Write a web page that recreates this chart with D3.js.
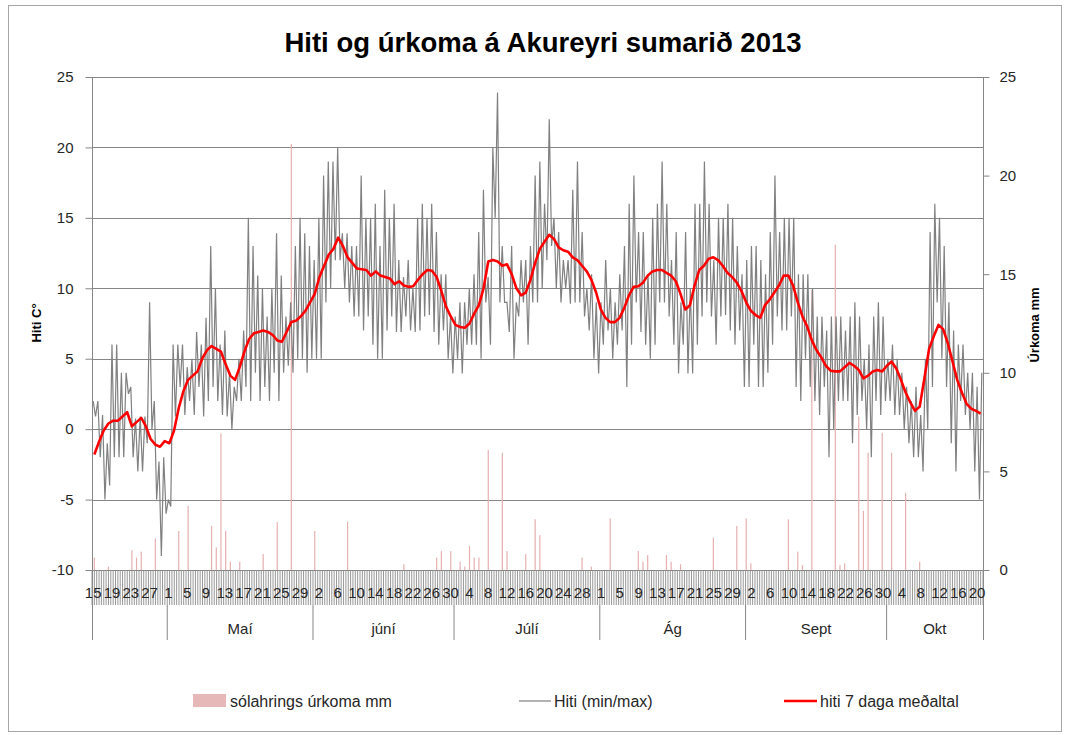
<!DOCTYPE html>
<html><head><meta charset="utf-8">
<script src="https://cdn.jsdelivr.net/npm/d3@7"></script>
<style>body{margin:0;background:#fff}svg{display:block}text{font-family:"Liberation Sans",Arial,sans-serif}</style>
</head><body>
<svg id="c" width="1068" height="735"></svg>
<script>
const title = "Hiti og úrkoma á Akureyri sumarið 2013";
// daily max temperature, 15 Apr .. 21 Oct 2013
const tMax = [2,2,1,-1,6,6,4,4,3,0.75,0.9,0.9,9,2,-2.3,-2,
 -5,6,6,6,4.4,5,6.9,6,7.9,13,10,6,7,4,3,5,7,15,13,10.9,10,8,10,13.9,10.9,8,9,13,15,13.9,13,
 12,15,18,19,19,20,13.9,13.9,13,13,18,15,15,16,13,17,15,16,12,10.8,12,10,15,16,15,16,14,11,11,8,
 8,9,9,10,11,14,17,10.8,20,23.9,13,9,13,9,12,12,13,18,19,16,22,15,14,12,12,17,19,14,10,11,9,
 9,12,10,9,11,13,16,18,14,14,11,15,16,19,16,12,14,9,14,10,16,16,19,16,12,15,15,16,15,13,11,
 12,13,13,12,11,14,18,14,15,15,15,11,11,11,10,8,8,7,8,8,8,7,8,9,8,5,6,8,9,8,
 5,6,5,4,3,2,3,1,5,14,16,15,13,9,7,6,6,4,4,3,4];
// daily min temperature
const tMin = [0.9,-2,-5,-4,-2,-2,-2,2.5,-2,-3,-3,-1,0,-5,-9,-6,
 -5.5,0.9,3,1,2,1,3,0.9,2,3,2,1,0.9,0,2,2,3,2,4,2,3,2,4,2,4,4.5,4,5,5,4,5,
 5,5,9,10,12,12,10,9,8,8,7,8,6,5,5,7,8,6.9,6.9,8,7,6.9,7,8,8.1,6.9,6,7,5,3.95,
 5,3.95,6,6,6,5,9,6,15,9,9,6.9,5,8,9,6,9,9,10,12,13,10,9,10,8.9,9,9,8,7,5,3.95,
 6,7,5,6,7,3,6,9,6.9,6,5,6,9,9,8,6,3.95,6,3.95,3.95,6,8,9,8,6,8,8.1,7,6,7,3,
 3,6,3,3,4,6,8,7,7,8,3,2,5,3,2,1,3,-2,0,2,2,2,-1,1,2,0,-2,2,1,2,
 2,1,1,0,-1,-2,-2,-3,0,3,9,5,3,-1,-3,2,1,0,-3,-5];
// 7-day running mean
const avg7 = [-1.8,-0.9,-0.1,0.4,0.6,0.6,0.9,1.2,0.2,0.5,
 0.8,0.2,-0.7,-1.1,-1.25,-0.85,-1.0,-0.1,1.5,2.7,
 3.5,3.8,4.1,5.0,5.6,5.9,5.7,5.5,4.6,3.8,
 3.5,4.4,5.5,6.4,6.8,6.9,7.0,6.9,6.7,6.3,
 6.2,6.9,7.6,7.7,8.0,8.4,9.0,9.6,10.8,11.6,
 12.4,12.8,13.6,13.0,12.2,11.8,11.4,11.35,11.3,10.9,
 11.2,10.9,10.8,10.7,10.3,10.5,10.2,10.1,10.15,10.6,
 11.0,11.3,11.25,10.8,9.8,8.7,8.0,7.4,7.25,7.2,
 7.5,8.2,8.8,10.0,11.9,12.0,11.9,11.6,11.7,11.0,
 10.0,9.5,9.7,10.6,11.8,12.8,13.3,13.8,13.5,12.9,
 12.7,12.6,12.2,12.0,11.6,11.2,10.6,9.7,8.5,7.9,
 7.6,7.6,7.9,8.6,9.5,10.1,10.15,10.4,10.9,11.2,
 11.3,11.3,11.1,10.9,10.5,9.6,8.5,8.8,10.2,11.3,
 11.6,12.1,12.2,12.0,11.6,11.1,10.8,10.4,9.8,9.0,
 8.4,8.1,7.9,8.8,9.2,9.7,10.2,10.9,10.9,10.2,
 9.0,8.0,7.3,6.3,5.6,5.1,4.5,4.15,4.1,4.1,
 4.4,4.7,4.5,4.2,3.6,3.8,4.1,4.2,4.1,4.5,
 4.8,4.3,3.5,2.6,1.9,1.3,1.6,3.6,5.7,6.6,
 7.4,7.1,6.1,4.8,3.5,2.6,1.8,1.45,1.3,1.1];
// daily precipitation mm
const rain = [0.63,0,0,0.17,0,0,0,0,1.0,0.63, 0.93,0,0,1.6,0,0,0,0,1.98,0,
 3.25,0,0,0,0,2.23,1.15,6.93,1.98,0.42, 0,0.42,0,0,0,0,0.81,0,0,2.42,
 0,0,21.6,0,0,0,0,1.98,0,0, 0,0,0,0,2.45,0,0,0,0,0,
 0,0,0,0,0,0,0.29,0,0,0, 0,0,0,0.63,0.96,0,0.96,0,0.42,0.17,
 1.22,0.63,0.63,0,6.09,0,0,5.95,0.96,0, 0,0,0.81,0,2.57,1.77,0,0,0,0,
 0,0,0,0,0.63,0,0.17,0,0,0, 2.62,0,0,0,0,0,0.96,0.42,0.76,0,
 0,0,0.76,0.42,0,0.29,0,0,0,0, 0,0,1.64,0,0,0,0,2.23,0,2.62,
 0.34,0,0,0,0,0,0,0,2.57,0, 0.93,0.25,0,14.2,0,0,0,0,16.5,0.25,
 0.34,0,0,7.78,3.0,5.95,0,0,6.96,0, 5.95,0,0,3.92,0,0,0.42,0,0,0,
 0,0,0,0,0,0,0,0,0,0];
const dayLabels = ["15","19","23","27","1","5","9","13","17","21","25","29",
 "2","6","10","14","18","22","26","30","4","8","12","16","20","24","28",
 "1","5","9","13","17","21","25","29","2","6","10","14","18","22","26","30",
 "4","8","12","16","20"];
const months = ["", "Maí", "júní", "Júlí", "Ág", "Sept", "Okt"];
const monthDays = [16, 31, 30, 31, 31, 30, 21];
const leftTicks = [-10, -5, 0, 5, 10, 15, 20, 25];
const rightTicks = [0, 5, 10, 15, 20, 25];
const legendItems = ["sólahrings úrkoma mm", "Hiti (min/max)", "hiti 7 daga meðaltal"];

const hiti = [];
tMax.forEach((v, d) => { hiti.push(v); if (d < tMin.length) hiti.push(tMin[d]); });
const nCat = hiti.length;
const L = 92, R = 983, T = 77, B = 570;

const svg = d3.select("#c");
const xCat = d3.scaleBand().domain(d3.range(nCat)).range([L, R]);
const xDay = d3.scaleBand().domain(d3.range(tMax.length)).range([L, R]);
const yL = d3.scaleLinear().domain([-10, 25]).range([B, T]);
const yR = d3.scaleLinear().domain([0, 25]).range([B, T]);
const gridC = "#868686", txtC = "#262626";
const fmt = d => String(d);

// outer border
svg.append("rect").attr("x", 8.5).attr("y", 5.5).attr("width", 1053).attr("height", 726)
  .attr("fill", "none").attr("stroke", "#a6a6a6");

// title
svg.append("text").attr("x", 543).attr("y", 52).attr("text-anchor", "middle")
  .attr("font-size", 27.5).attr("font-weight", "bold").attr("fill", "#000").text(title);

// grid
svg.append("g").selectAll("line").data(leftTicks).join("line")
  .attr("x1", L).attr("x2", R).attr("y1", d => Math.round(yL(d)) + 0.5).attr("y2", d => Math.round(yL(d)) + 0.5)
  .attr("stroke", gridC);

// left axis
const gl = svg.append("g").attr("transform", `translate(${L + 0.5},0)`)
  .call(d3.axisLeft(yL).tickValues(leftTicks).tickFormat(fmt).tickSize(7).tickPadding(12));
gl.select(".domain").remove();
gl.selectAll("line").attr("stroke", gridC);
gl.selectAll("text").attr("font-size", 15).attr("fill", txtC).attr("font-family", "Liberation Sans, Arial");
svg.append("line").attr("x1", L + 0.5).attr("x2", L + 0.5).attr("y1", T).attr("y2", 640).attr("stroke", gridC);

// right axis
const gr = svg.append("g").attr("transform", `translate(${R + 0.5},0)`)
  .call(d3.axisRight(yR).tickValues(rightTicks).tickFormat(fmt).tickSize(6).tickPadding(10));
gr.select(".domain").remove();
gr.selectAll("line").attr("stroke", gridC);
gr.selectAll("text").attr("font-size", 15).attr("fill", txtC).attr("font-family", "Liberation Sans, Arial");
svg.append("line").attr("x1", R + 0.5).attr("x2", R + 0.5).attr("y1", T).attr("y2", 640).attr("stroke", gridC);

// category ticks
const bw = xCat.bandwidth();
svg.append("g").selectAll("line").data(d3.range(nCat + 1)).join("line")
  .attr("x1", i => L + i * bw).attr("x2", i => L + i * bw)
  .attr("y1", B).attr("y2", 605).attr("stroke", "#8c8c8c").attr("stroke-width", 0.9);

// day labels
svg.append("g").selectAll("text").data(dayLabels).join("text")
  .attr("x", (t, k) => xCat(8 * k) + bw / 2).attr("y", 598).attr("text-anchor", "middle")
  .attr("font-size", 15).attr("fill", txtC).text(t => t);

// month separators + labels
let cum = 0;
const bounds = [0];
monthDays.forEach(n => { cum += n; bounds.push(Math.min(cum * 2, nCat)); });
svg.append("g").selectAll("line").data(bounds.slice(1, -1)).join("line")
  .attr("x1", b => L + b * bw).attr("x2", b => L + b * bw).attr("y1", 605).attr("y2", 640).attr("stroke", gridC);
svg.append("g").selectAll("text").data(months).join("text")
  .attr("x", (m, k) => L + (bounds[k] + bounds[k + 1]) / 2 * bw).attr("y", 634).attr("text-anchor", "middle")
  .attr("font-size", 15).attr("fill", txtC).text(m => m);

// rain bars
svg.append("g").selectAll("rect").data(rain.map((v, d) => ({v, d})).filter(o => o.v > 0)).join("rect")
  .attr("x", o => xDay(o.d) + xDay.bandwidth() / 2 - 0.6).attr("width", 1.2)
  .attr("y", o => yR(o.v)).attr("height", o => B - yR(o.v)).attr("fill", "#e6b0af");

// temperature min/max line
svg.append("path").datum(hiti)
  .attr("d", d3.line().x((v, i) => xCat(i) + bw / 2).y(v => yL(v)))
  .attr("fill", "none").attr("stroke", "#808080").attr("stroke-width", 1.2);

// 7-day average
svg.append("path").datum(avg7)
  .attr("d", d3.line().x((v, d) => xDay(d) + xDay.bandwidth() / 2).y(v => yL(v)))
  .attr("fill", "none").attr("stroke", "#ff0000").attr("stroke-width", 2.6).attr("stroke-linejoin", "round");

// axis titles
svg.append("text").attr("transform", "translate(41,323) rotate(-90)").attr("text-anchor", "middle")
  .attr("font-size", 13).attr("font-weight", "bold").attr("fill", "#000").text("Hiti C°");
svg.append("text").attr("transform", "translate(1039,325) rotate(-90)").attr("text-anchor", "middle")
  .attr("font-size", 13).attr("font-weight", "bold").attr("fill", "#000").text("Úrkoma mm");

// legend
const lg = svg.append("g");
lg.append("rect").attr("x", 193).attr("y", 694).attr("width", 33).attr("height", 13).attr("fill", "#e6b9b8");
lg.append("line").attr("x1", 519).attr("x2", 551).attr("y1", 701).attr("y2", 701).attr("stroke", "#808080").attr("stroke-width", 1.2);
lg.append("line").attr("x1", 784).attr("x2", 817).attr("y1", 701).attr("y2", 701).attr("stroke", "#ff0000").attr("stroke-width", 2.6);
lg.selectAll("text").data(legendItems).join("text")
  .attr("x", (t, k) => [230, 554, 820][k]).attr("y", 707).attr("font-size", 16).attr("fill", txtC).text(t => t);
</script>
</body></html>
